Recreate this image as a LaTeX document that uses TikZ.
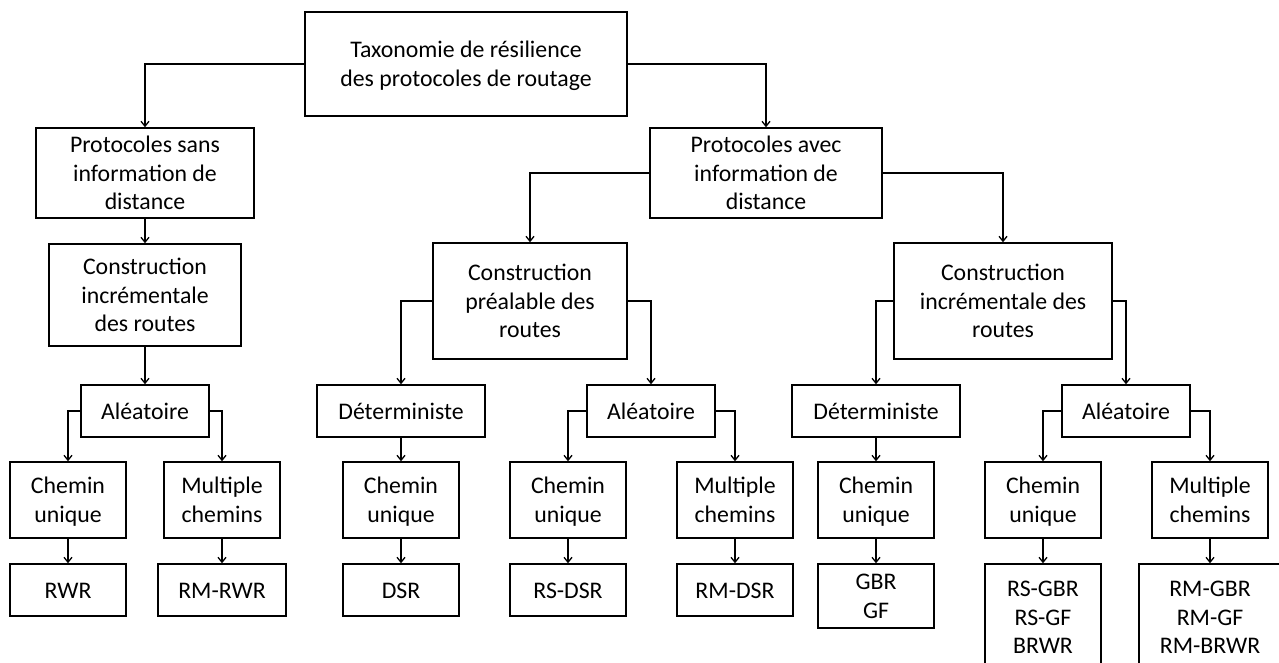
\documentclass[tikz,border=0pt]{standalone}
\usepackage{fontspec}
\setmainfont{Carlito}
\usetikzlibrary{arrows.meta}
\newcommand\tstrut{\rule[-6.2pt]{0pt}{28.5pt}}
\begin{document}
\begin{tikzpicture}[x=1pt,y=-1pt,
  box/.style={draw, line width=1.4pt, align=center, inner sep=0pt,
    font=\fontsize{23.8}{28.5}\selectfont},
  arr/.style={line width=1.4pt, -{Straight Barb[length=5pt,width=8pt,line width=1.3pt]}}]
\useasboundingbox (0,0) rectangle (1279,662);
\fill[white] (0,0) rectangle (1279,662);
\clip (0,0) rectangle (1279,662);
% level 0
\node[box, minimum width=322, minimum height=104] (root) at (466,64) {\tstrut Taxonomie de résilience\\\tstrut des protocoles de routage};
% level 1
\node[box, minimum width=218, minimum height=90] (sans) at (145,173) {\tstrut Protocoles sans\\\tstrut information de\\\tstrut distance};
\node[box, minimum width=232, minimum height=90] (avec) at (766,173) {\tstrut Protocoles avec\\\tstrut information de\\\tstrut distance};
% level 2
\node[box, minimum width=192, minimum height=102] (cil) at (145,295) {\tstrut Construction\\\tstrut incrémentale\\\tstrut des routes};
\node[box, minimum width=194, minimum height=116] (cp) at (530,301) {\tstrut Construction\\\tstrut préalable des\\\tstrut routes};
\node[box, minimum width=218, minimum height=116] (cir) at (1003,301) {\tstrut Construction\\\tstrut incrémentale des\\\tstrut routes};
% level 3
\node[box, minimum width=128, minimum height=52] (al1) at (145,411) {\tstrut Aléatoire};
\node[box, minimum width=168, minimum height=52] (det1) at (401,411) {\tstrut Déterministe};
\node[box, minimum width=128, minimum height=52] (al2) at (651,411) {\tstrut Aléatoire};
\node[box, minimum width=168, minimum height=52] (det2) at (876,411) {\tstrut Déterministe};
\node[box, minimum width=128, minimum height=52] (al3) at (1126,411) {\tstrut Aléatoire};
% level 4
\node[box, minimum width=116, minimum height=76] (cu1) at (68,500) {\tstrut Chemin\\\tstrut unique};
\node[box, minimum width=116, minimum height=76] (mc1) at (222,500) {\tstrut Multiple\\\tstrut chemins};
\node[box, minimum width=116, minimum height=76] (cu2) at (401,500) {\tstrut Chemin\\\tstrut unique};
\node[box, minimum width=116, minimum height=76] (cu3) at (568,500) {\tstrut Chemin\\\tstrut unique};
\node[box, minimum width=116, minimum height=76] (mc2) at (735,500) {\tstrut Multiple\\\tstrut chemins};
\node[box, minimum width=116, minimum height=76] (cu4) at (876,500) {\tstrut Chemin\\\tstrut unique};
\node[box, minimum width=116, minimum height=76] (cu5) at (1043,500) {\tstrut Chemin\\\tstrut unique};
\node[box, minimum width=116, minimum height=76] (mc3) at (1210,500) {\tstrut Multiple\\\tstrut chemins};
% level 5
\node[box, minimum width=116, minimum height=52] (rwr) at (68,590) {\tstrut RWR};
\node[box, minimum width=128, minimum height=52] (rmrwr) at (222,590) {\tstrut RM-RWR};
\node[box, minimum width=116, minimum height=52] (dsr) at (401,590) {\tstrut DSR};
\node[box, minimum width=116, minimum height=52] (rsdsr) at (568,590) {\tstrut RS-DSR};
\node[box, minimum width=116, minimum height=52] (rmdsr) at (735,590) {\tstrut RM-DSR};
\node[box, minimum width=116, minimum height=64] (gbr) at (876,596) {\tstrut GBR\\\tstrut GF};
\node[box, minimum width=116, minimum height=106] (rsgbr) at (1043,617) {\tstrut RS-GBR\\\tstrut RS-GF\\\tstrut BRWR};
\node[box, minimum width=142, minimum height=106] (rmgbr) at (1210,617) {\tstrut RM-GBR\\\tstrut RM-GF\\\tstrut RM-BRWR};
% connectors
\draw[arr] (root.west) -| (sans.north);
\draw[arr] (root.east) -| (avec.north);
\draw[arr] (sans.south) -- (cil.north);
\draw[arr] (avec.west) -| (cp.north);
\draw[arr] (avec.east) -| (cir.north);
\draw[arr] (cil.south) -- (al1.north);
\draw[arr] (cp.west) -| (det1.north);
\draw[arr] (cp.east) -| (al2.north);
\draw[arr] (cir.west) -| (det2.north);
\draw[arr] (cir.east) -| (al3.north);
\draw[arr] (al1.west) -| (cu1.north);
\draw[arr] (al1.east) -| (mc1.north);
\draw[arr] (det1.south) -- (cu2.north);
\draw[arr] (al2.west) -| (cu3.north);
\draw[arr] (al2.east) -| (mc2.north);
\draw[arr] (det2.south) -- (cu4.north);
\draw[arr] (al3.west) -| (cu5.north);
\draw[arr] (al3.east) -| (mc3.north);
\draw[arr] (cu1.south) -- (rwr.north);
\draw[arr] (mc1.south) -- (rmrwr.north);
\draw[arr] (cu2.south) -- (dsr.north);
\draw[arr] (cu3.south) -- (rsdsr.north);
\draw[arr] (mc2.south) -- (rmdsr.north);
\draw[arr] (cu4.south) -- (gbr.north);
\draw[arr] (cu5.south) -- (rsgbr.north);
\draw[arr] (mc3.south) -- (rmgbr.north);
\end{tikzpicture}
\end{document}
